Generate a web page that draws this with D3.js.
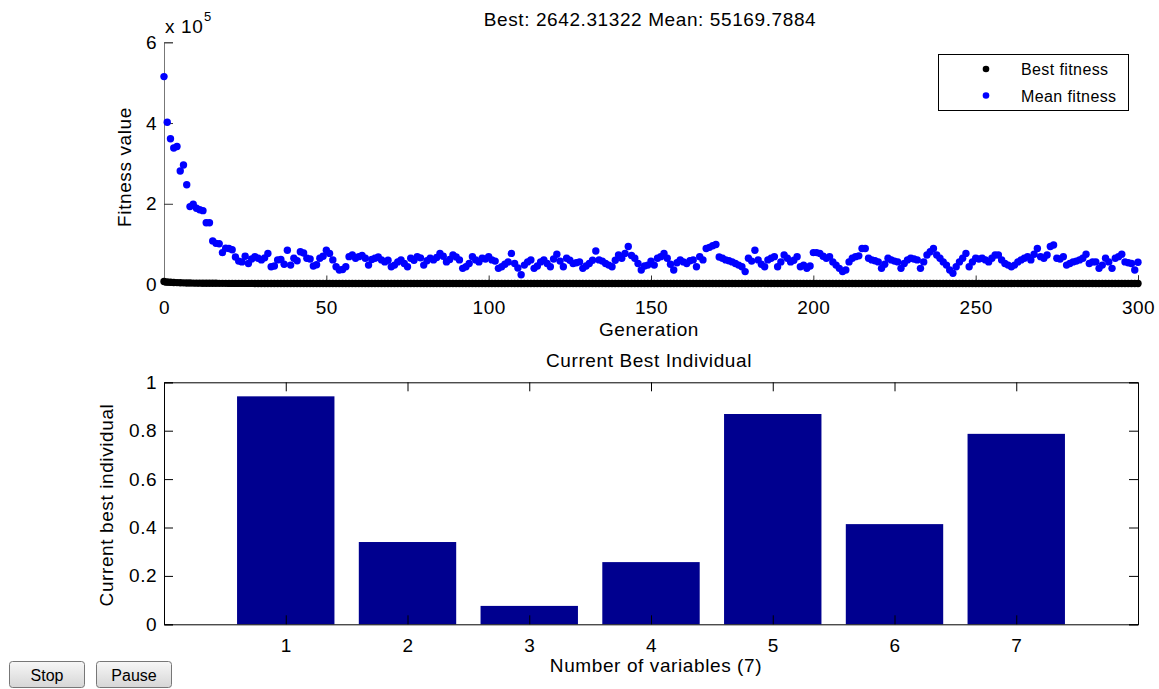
<!DOCTYPE html>
<html>
<head>
<meta charset="utf-8">
<script src="https://cdn.jsdelivr.net/npm/d3@7"></script>
<style>
  body { margin: 0; background: #fff; }
  svg { display: block; font-family: "Liberation Sans", Arial, sans-serif; }
  .axis text { font-size: 19px; fill: #000; letter-spacing: 0.5px; }
  .lbl { font-size: 19px; fill: #000; letter-spacing: 0.6px; }
</style>
</head>
<body>
<div id="chart"></div>
<script>
// mean fitness per generation, in units of 1e4
const meanFitness = [
  51.5, 40.2, 36.1, 33.8, 34.2, 28.1, 29.6, 24.7, 19.3, 19.9,
  18.9, 18.5, 18.3, 15.3, 15.3, 10.8, 10.2, 10.1, 7.9, 9.0,
  8.9, 8.6, 6.8, 5.8, 5.6, 7.0, 5.2, 6.3, 6.9, 6.5,
  6.1, 6.6, 7.7, 4.4, 4.6, 6.1, 6.2, 5.0, 8.5, 4.8,
  6.5, 5.9, 8.1, 7.8, 6.5, 6.3, 4.6, 4.9, 6.5, 7.0,
  8.5, 7.7, 6.1, 4.4, 3.6, 3.7, 4.4, 6.9, 7.3, 6.5,
  6.9, 7.2, 6.5, 4.8, 6.2, 6.5, 6.8, 6.1, 5.6, 6.0,
  4.4, 4.8, 5.6, 6.1, 5.2, 4.4, 6.5, 6.0, 6.9, 6.6,
  4.8, 5.9, 6.5, 6.1, 6.7, 7.7, 7.0, 5.6, 6.2, 7.3,
  6.8, 6.1, 4.0, 4.4, 5.2, 6.9, 6.1, 5.6, 6.5, 6.3,
  6.9, 6.1, 5.8, 4.0, 4.4, 5.0, 5.6, 7.7, 5.2, 4.1,
  2.4, 4.8, 5.6, 6.1, 4.0, 4.6, 5.6, 6.1, 5.2, 4.4,
  6.3, 7.5, 5.8, 4.4, 6.5, 6.0, 5.2, 5.4, 5.6, 4.0,
  4.6, 5.2, 6.0, 8.3, 6.1, 5.8, 5.2, 4.8, 4.4, 6.0,
  7.3, 6.5, 7.7, 9.4, 7.2, 6.5, 5.2, 3.6, 4.6, 4.8,
  5.8, 4.8, 6.5, 6.9, 7.7, 6.5, 5.0, 3.6, 5.4, 6.1,
  5.6, 5.2, 5.9, 6.1, 4.4, 6.9, 6.1, 8.9, 9.2, 9.6,
  9.9, 6.8, 6.5, 6.1, 5.9, 5.6, 5.2, 4.8, 4.4, 3.2,
  6.5, 5.8, 8.5, 6.1, 5.0, 4.4, 6.1, 6.5, 6.9, 4.4,
  5.6, 7.3, 6.5, 5.6, 6.0, 6.9, 4.4, 4.8, 4.0, 4.6,
  7.9, 7.9, 7.7, 7.0, 6.5, 6.9, 5.6, 4.8, 4.0, 3.2,
  3.6, 5.6, 6.5, 6.9, 7.1, 8.9, 8.9, 6.5, 6.1, 5.9,
  5.6, 4.0, 5.0, 6.5, 6.1, 5.8, 5.6, 4.0, 5.2, 6.1,
  6.5, 6.3, 6.1, 4.0, 5.6, 7.3, 8.1, 8.9, 7.3, 6.5,
  5.6, 4.8, 3.6, 2.8, 4.4, 5.6, 6.5, 7.7, 4.4, 5.6,
  6.5, 6.3, 6.5, 6.1, 5.6, 6.5, 7.3, 7.3, 6.1, 5.2,
  4.8, 4.4, 4.8, 5.6, 6.1, 6.5, 6.9, 6.1, 7.5, 8.9,
  6.9, 6.5, 7.3, 9.4, 9.8, 6.5, 6.3, 6.9, 4.8, 5.2,
  5.6, 5.8, 6.1, 6.5, 7.5, 5.2, 5.6, 5.6, 4.0, 4.8,
  6.5, 5.6, 4.0, 6.5, 6.9, 7.5, 5.6, 5.4, 5.2, 3.6,
  5.517
];
// best fitness per generation (absolute)
const bestFitness = [
  7400, 6300, 5600, 5100, 4700, 4400, 4100, 3900, 3700, 3500,
  3400, 3300, 3200, 3100, 3050, 3000, 2950, 2900, 2850, 2800,
  2780, 2760, 2740, 2720, 2700, 2690, 2680, 2670, 2660, 2650,
  2645, 2645, 2645, 2645, 2645, 2645, 2645, 2645, 2645, 2645,
  2645, 2645, 2645, 2645, 2645, 2645, 2645, 2645, 2645, 2645,
  2645, 2645, 2645, 2645, 2645, 2645, 2645, 2645, 2645, 2645,
  2644, 2644, 2644, 2644, 2644, 2644, 2644, 2644, 2644, 2644,
  2644, 2644, 2644, 2644, 2644, 2644, 2644, 2644, 2644, 2644,
  2644, 2644, 2644, 2644, 2644, 2644, 2644, 2644, 2644, 2644,
  2644, 2644, 2644, 2644, 2644, 2644, 2644, 2644, 2644, 2644,
  2643, 2643, 2643, 2643, 2643, 2643, 2643, 2643, 2643, 2643,
  2643, 2643, 2643, 2643, 2643, 2643, 2643, 2643, 2643, 2643,
  2643, 2643, 2643, 2643, 2643, 2643, 2643, 2643, 2643, 2643,
  2643, 2643, 2643, 2643, 2643, 2643, 2643, 2643, 2643, 2643,
  2643, 2643, 2643, 2643, 2643, 2643, 2643, 2643, 2643, 2643,
  2643, 2643, 2643, 2643, 2643, 2643, 2643, 2643, 2643, 2643,
  2643, 2643, 2643, 2643, 2643, 2643, 2643, 2643, 2643, 2643,
  2643, 2643, 2643, 2643, 2643, 2643, 2643, 2643, 2643, 2643,
  2642.5, 2642.5, 2642.5, 2642.5, 2642.5, 2642.5, 2642.5, 2642.5, 2642.5, 2642.5,
  2642.5, 2642.5, 2642.5, 2642.5, 2642.5, 2642.5, 2642.5, 2642.5, 2642.5, 2642.5,
  2642.5, 2642.5, 2642.5, 2642.5, 2642.5, 2642.5, 2642.5, 2642.5, 2642.5, 2642.5,
  2642.5, 2642.5, 2642.5, 2642.5, 2642.5, 2642.5, 2642.5, 2642.5, 2642.5, 2642.5,
  2642.5, 2642.5, 2642.5, 2642.5, 2642.5, 2642.5, 2642.5, 2642.5, 2642.5, 2642.5,
  2642.4, 2642.4, 2642.4, 2642.4, 2642.4, 2642.4, 2642.4, 2642.4, 2642.4, 2642.4,
  2642.4, 2642.4, 2642.4, 2642.4, 2642.4, 2642.4, 2642.4, 2642.4, 2642.4, 2642.4,
  2642.4, 2642.4, 2642.4, 2642.4, 2642.4, 2642.4, 2642.4, 2642.4, 2642.4, 2642.4,
  2642.4, 2642.4, 2642.4, 2642.4, 2642.4, 2642.4, 2642.4, 2642.4, 2642.4, 2642.4,
  2642.4, 2642.4, 2642.4, 2642.4, 2642.4, 2642.4, 2642.4, 2642.4, 2642.4, 2642.4,
  2642.3, 2642.3, 2642.3, 2642.3, 2642.3, 2642.3, 2642.3, 2642.3, 2642.3, 2642.3,
  2642.3, 2642.3, 2642.3, 2642.3, 2642.3, 2642.3, 2642.3, 2642.3, 2642.3, 2642.3,
  2642.31322
];
const xTicks = [0, 50, 100, 150, 200, 250, 300];
const yTicks = [0, 2e5, 4e5, 6e5];
const variables = [1, 2, 3, 4, 5, 6, 7];
const bestIndividual = [0.942, 0.340, 0.076, 0.257, 0.869, 0.414, 0.787];
const barTicks = [0, 0.2, 0.4, 0.6, 0.8, 1];
const legendItems = ["Best fitness", "Mean fitness"];
const buttons = ["Stop", "Pause"];
const titleText = "Best: 2642.31322 Mean: 55169.7884";

const W = 1159, H = 689;
const svg = d3.select("#chart").append("svg").attr("width", W).attr("height", H);

// ---- top plot
const x = d3.scaleLinear().domain([0, 300]).range([164, 1138]);
const y = d3.scaleLinear().domain([0, 6e5]).range([284.5, 42.3]);

svg.append("g").attr("class", "axis")
  .attr("transform", "translate(0," + y(0) + ")")
  .call(d3.axisBottom(x).tickValues(xTicks).tickSize(-9).tickPadding(16).tickFormat(d3.format("d")))
  .call(g => g.select(".domain").attr("stroke", "#000"));

svg.append("g").attr("class", "axis")
  .attr("transform", "translate(" + x(0) + ",0)")
  .call(d3.axisLeft(y).tickValues(yTicks).tickSize(-9).tickPadding(7).tickFormat(d => d / 1e5))
  .call(g => g.select(".domain").attr("stroke", "#777"));

svg.selectAll("g.axis line").attr("stroke", "#333");

svg.append("text").attr("class", "lbl").attr("x", 165).attr("y", 33).text("x 10");
svg.append("text").attr("class", "lbl").attr("x", 204).attr("y", 21).style("font-size", "13px").text("5");

svg.append("g").selectAll("circle").data(meanFitness).join("circle")
  .attr("cx", (d, i) => x(i)).attr("cy", d => y(d * 1e4)).attr("r", 3.7).attr("fill", "#0000ff");
svg.append("g").selectAll("circle").data(bestFitness).join("circle")
  .attr("cx", (d, i) => x(i)).attr("cy", d => y(d)).attr("r", 3.7).attr("fill", "#000");

svg.append("text").attr("class", "lbl").attr("x", 650).attr("y", 26).attr("text-anchor", "middle").text(titleText);
svg.append("text").attr("class", "lbl").attr("x", 649).attr("y", 336).attr("text-anchor", "middle").text("Generation");
svg.append("text").attr("class", "lbl").attr("transform", "translate(131,167) rotate(-90)").attr("text-anchor", "middle").text("Fitness value");

// legend
const leg = svg.append("g");
leg.append("rect").attr("x", 938.5).attr("y", 54.5).attr("width", 190).attr("height", 56)
  .attr("fill", "#fff").attr("stroke", "#000");
leg.selectAll("circle").data(legendItems).join("circle")
  .attr("cx", 986).attr("cy", (d, i) => 69 + i * 26.5).attr("r", 3.3)
  .attr("fill", (d, i) => i ? "#0000ff" : "#000");
leg.selectAll("text").data(legendItems).join("text")
  .attr("x", 1021).attr("y", (d, i) => 75 + i * 26.5)
  .style("font-size", "16px").style("letter-spacing", "0.4px").text(d => d);

// ---- bottom plot
const xb = d3.scaleLinear().domain([0, 8]).range([164, 1138]);
const yb = d3.scaleLinear().domain([0, 1]).range([624.3, 382.3]);
const barW = xb(0.8) - xb(0);

svg.append("g").selectAll("rect").data(bestIndividual).join("rect")
  .attr("x", (d, i) => xb(variables[i]) - barW / 2).attr("width", barW)
  .attr("y", d => yb(d)).attr("height", d => yb(0) - yb(d)).attr("fill", "#00008f");

svg.append("g").attr("class", "axis")
  .attr("transform", "translate(0," + yb(0) + ")")
  .call(d3.axisBottom(xb).tickValues(variables).tickSize(-9).tickPadding(14).tickFormat(d3.format("d")));
svg.append("g").attr("class", "axis")
  .attr("transform", "translate(0," + yb(1) + ")")
  .call(d3.axisTop(xb).tickValues(variables).tickSize(-9).tickFormat(""));
svg.append("g").attr("class", "axis")
  .attr("transform", "translate(" + xb(0) + ",0)")
  .call(d3.axisLeft(yb).tickValues(barTicks).tickSize(-9).tickPadding(7).tickFormat(d3.format("")));
svg.append("g").attr("class", "axis")
  .attr("transform", "translate(" + xb(8) + ",0)")
  .call(d3.axisRight(yb).tickValues(barTicks).tickSize(-9).tickFormat(""));

svg.append("text").attr("class", "lbl").attr("x", 649).attr("y", 367).attr("text-anchor", "middle").text("Current Best Individual");
svg.append("text").attr("class", "lbl").attr("x", 656).attr("y", 672).attr("text-anchor", "middle").text("Number of variables (7)");
svg.append("text").attr("class", "lbl").attr("transform", "translate(113,505) rotate(-90)").attr("text-anchor", "middle").text("Current best individual");

// ---- buttons
const grad = svg.append("defs").append("linearGradient").attr("id", "btn").attr("x1", 0).attr("y1", 0).attr("x2", 0).attr("y2", 1);
grad.append("stop").attr("offset", "0%").attr("stop-color", "#f7f7f7");
grad.append("stop").attr("offset", "100%").attr("stop-color", "#d6d6d6");
const btn = svg.append("g").selectAll("g").data(buttons).join("g")
  .attr("transform", (d, i) => "translate(" + (9.5 + i * 87) + ",661.5)");
btn.append("rect").attr("width", 75).attr("height", 26).attr("rx", 3)
  .attr("fill", "url(#btn)").attr("stroke", "#777");
btn.append("text").attr("x", 37.5).attr("y", 19).attr("text-anchor", "middle")
  .style("font-size", "16px").text(d => d);
</script>
</body>
</html>
